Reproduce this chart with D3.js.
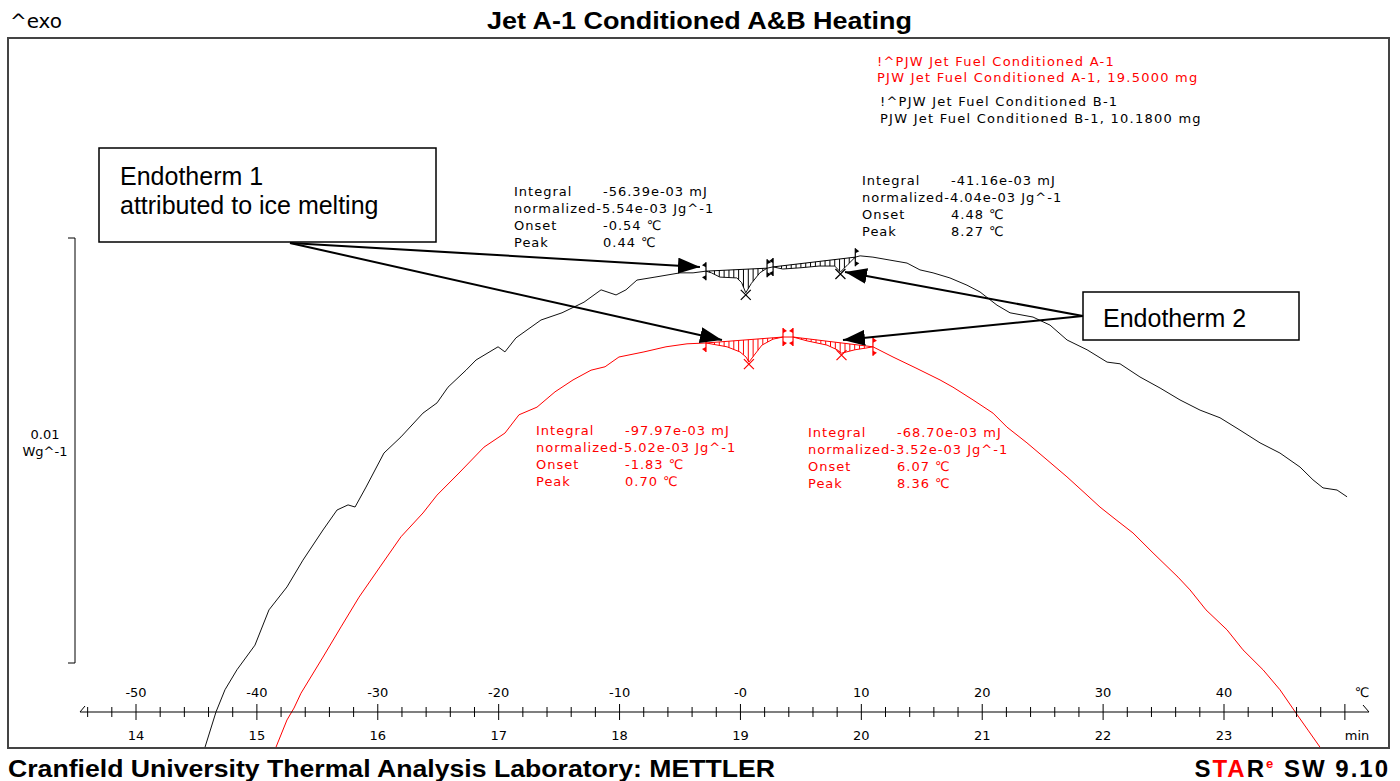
<!DOCTYPE html>
<html><head><meta charset="utf-8">
<script src="https://cdn.jsdelivr.net/npm/d3@7"></script>
<style>body{margin:0;background:#fff} svg{display:block}</style>
</head><body>
<svg id="c" width="1400" height="781"></svg>
<script>
// ---------- DATA ----------
const timeTicks = [14,15,16,17,18,19,20,21,22,23];
const tempLabels = ["-50","-40","-30","-20","-10","-0","10","20","30","40"];
// Sample B-1 (black): [time min, heat flow mW/g, exo up, arbitrary offset]
const seriesB = [
[14.571,0.02],[14.662,0.85],[14.736,1.37],[14.835,1.84],[14.984,2.42],[15.100,3.25],[15.249,3.79],[15.381,4.42],[15.547,5.13],[15.663,5.60],[15.754,5.72],[15.812,5.67],[15.903,6.14],[16.051,6.94],[16.192,7.32],[16.374,7.88],[16.490,8.12],[16.581,8.49],[16.730,8.89],[16.813,9.13],[16.995,9.44],[17.052,9.32],[17.143,9.65],[17.350,10.07],[17.524,10.24],[17.706,10.49],[17.847,10.78],[17.971,10.66],[18.053,10.78],[18.144,11.01],[18.293,11.08],[18.500,11.18],[18.608,11.18],[18.715,11.22],
[18.76,11.18],[18.83,11.08],[18.97,11.06],[19.01,10.95],[19.044,10.71],[19.09,10.93],[19.16,11.18],[19.22,11.29],[19.27,11.32],[19.35,11.27],[19.50,11.30],[19.65,11.34],[19.78,11.34],[19.827,11.20],[19.89,11.38],[19.95,11.55],[19.99,11.58],[20.096,11.55],
[20.237,11.48],[20.378,11.41],[20.485,11.25],[20.593,11.18],[20.733,11.06],[20.874,10.89],[20.982,10.73],[21.122,10.42],[21.230,10.24],[21.420,10.14],[21.561,9.95],[21.702,9.60],[21.867,9.37],[22.033,9.08],[22.140,9.04],[22.305,8.73],[22.471,8.47],[22.636,8.19],[22.802,7.95],[22.967,7.77],[23.132,7.48],[23.298,7.18],[23.463,6.94],[23.629,6.61],[23.736,6.31],[23.819,6.12],[23.935,6.07],[24.018,5.91]
];
// Sample A-1 (red)
const seriesA = [
[15.158,0.02],[15.249,0.66],[15.307,0.94],[15.365,1.29],[15.547,2.14],[15.696,2.85],[15.845,3.55],[16.018,4.26],[16.192,4.97],[16.374,5.53],[16.490,5.95],[16.672,6.47],[16.879,7.08],[17.052,7.41],[17.168,7.84],[17.317,8.02],[17.466,8.38],[17.615,8.66],[17.764,8.89],[17.880,8.97],[17.995,9.20],[18.202,9.32],[18.384,9.44],[18.558,9.51],[18.715,9.53],
[18.889,9.44],[18.996,9.32],[19.046,9.20],[19.07,9.08],[19.121,9.27],[19.178,9.48],[19.269,9.62],[19.352,9.67],[19.435,9.67],[19.550,9.58],[19.716,9.48],[19.80,9.37],[19.836,9.29],[19.947,9.37],[20.038,9.41],[20.096,9.44],
[20.262,9.20],[20.452,8.94],[20.651,8.66],[20.758,8.49],[20.924,8.19],[21.089,7.88],[21.205,7.55],[21.370,7.18],[21.536,6.78],[21.701,6.38],[21.867,5.95],[21.974,5.67],[22.107,5.37],[22.247,5.06],[22.413,4.59],[22.620,4.02],[22.719,3.72],[22.851,3.25],[23.025,2.78],[23.157,2.31],[23.323,1.84],[23.463,1.37],[23.596,0.82],[23.695,0.42],[23.794,0.02]
];
const legendA = ["!^PJW Jet Fuel Conditioned A-1","PJW Jet Fuel Conditioned A-1, 19.5000 mg"];
const legendB = ["!^PJW Jet Fuel Conditioned B-1","PJW Jet Fuel Conditioned B-1, 10.1800 mg"];
// Integration ranges [start,end] and peak time (min)
const rangesB = [[18.715,19.22,19.044],[19.27,19.95,19.827]];
const rangesA = [[18.715,19.352,19.07],[19.435,20.096,19.836]];
const resultsB1 = [["Integral","-56.39e-03 mJ"],["normalized-5.54e-03 Jg^-1",""],["Onset","-0.54 ℃"],["Peak","0.44 ℃"]];
const resultsB2 = [["Integral","-41.16e-03 mJ"],["normalized-4.04e-03 Jg^-1",""],["Onset","4.48 ℃"],["Peak","8.27 ℃"]];
const resultsA1 = [["Integral","-97.97e-03 mJ"],["normalized-5.02e-03 Jg^-1",""],["Onset","-1.83 ℃"],["Peak","0.70 ℃"]];
const resultsA2 = [["Integral","-68.70e-03 mJ"],["normalized-3.52e-03 Jg^-1",""],["Onset","6.07 ℃"],["Peak","8.36 ℃"]];
// arrow targets [time, value]
const arrowTargets1 = [[18.665,11.32],[18.847,9.60]];
const arrowTargets2 = [[19.865,11.20],[19.848,9.60]];
const scaleBar = [2,12]; // 0.01 W/g

// ---------- LAYOUT ----------
const svg = d3.select('#c');
const RED = '#ff0000';
const frame = {x0:8, y0:38, x1:1389, y1:748};
const x = d3.scaleLinear().domain([14,23]).range([136,1224]);
const y = d3.scaleLinear().domain([0,10]).range([748,323]);
const axisY = 712;
const mono = "'DejaVu Sans', Verdana, sans-serif";

svg.append('rect').attr('width',1400).attr('height',781).attr('fill','#fff');
svg.append('defs').append('clipPath').attr('id','clip').append('rect')
  .attr('x',frame.x0).attr('y',frame.y0).attr('width',frame.x1-frame.x0).attr('height',frame.y1-frame.y0);
const defs = svg.select('defs');
defs.append('marker').attr('id','arr').attr('markerUnits','userSpaceOnUse')
  .attr('markerWidth',24).attr('markerHeight',16).attr('refX',22).attr('refY',8).attr('orient','auto')
  .append('path').attr('d','M0,0 L22,8 L0,16 Z').attr('fill','#000');

// frame
svg.append('rect').attr('x',frame.x0).attr('y',frame.y0).attr('width',frame.x1-frame.x0).attr('height',frame.y1-frame.y0)
  .attr('fill','none').attr('stroke','#444').attr('stroke-width',2);

// title etc
svg.append('text').attr('x',487).attr('y',29).attr('textLength',425).attr('lengthAdjust','spacingAndGlyphs')
  .style('font-family',"'Liberation Sans', Arial, sans-serif").style('font-weight','bold').style('font-size','23px')
  .text('Jet A-1 Conditioned A&B Heating');
svg.append('text').attr('x',10).attr('y',28).attr('textLength',52).attr('lengthAdjust','spacingAndGlyphs')
  .style('font-family',mono).style('font-size','20px').text('^exo');
svg.append('text').attr('x',8).attr('y',777).attr('textLength',767).attr('lengthAdjust','spacingAndGlyphs')
  .style('font-family',"'Liberation Sans', Arial, sans-serif").style('font-weight','bold').style('font-size','24px')
  .text('Cranfield University Thermal Analysis Laboratory: METTLER');
const star = svg.append('text').attr('x',1390).attr('y',777).attr('text-anchor','end')
  .style('font-family',"'Liberation Sans', Arial, sans-serif").style('font-weight','bold').style('font-size','24px').style('letter-spacing','2px');
star.append('tspan').text('S');
star.append('tspan').attr('fill',RED).text('TA');
star.append('tspan').text('R');
star.append('tspan').attr('fill',RED).attr('dy',-9).style('font-size','13px').text('e');
star.append('tspan').attr('dy',9).text(' SW 9.10');

// scale bar
const sb = svg.append('g').attr('stroke','#000').attr('fill','none');
sb.append('path').attr('d',`M68,${y(scaleBar[1])}H75V${y(scaleBar[0])}H68`);
svg.append('text').attr('x',45).attr('y',439).attr('text-anchor','middle').style('font-family',mono).style('font-size','13px').text('0.01');
svg.append('text').attr('x',45).attr('y',456).attr('text-anchor','middle').style('font-family',mono).style('font-size','13px').text('Wg^-1');

// curves
const line = d3.line().x(d=>x(d[0])).y(d=>y(d[1]));
const cg = svg.append('g').attr('clip-path','url(#clip)');
cg.append('path').datum(seriesB).attr('d',line).attr('fill','none').attr('stroke','#111').attr('stroke-width',1);
cg.append('path').datum(seriesA).attr('d',line).attr('fill','none').attr('stroke',RED).attr('stroke-width',1);

function interp(s,t){
  const i = d3.bisector(d=>d[0]).left(s,t);
  if(i<=0) return s[0][1];
  if(i>=s.length) return s[s.length-1][1];
  const a=s[i-1], b=s[i];
  return a[1]+(b[1]-a[1])*(t-a[0])/(b[0]-a[0]);
}
function drawIntegrals(s, ranges, col){
  const g = svg.append('g');
  ranges.forEach(([t0,t1,tp])=>{
    const v0=interp(s,t0), v1=interp(s,t1);
    g.append('line').attr('x1',x(t0)).attr('y1',y(v0)).attr('x2',x(t1)).attr('y2',y(v1)).attr('stroke',col).attr('stroke-width',1);
    d3.range(t0+0.03,t1,0.04).forEach(t=>{
      const bl=v0+(v1-v0)*(t-t0)/(t1-t0), cv=interp(s,t);
      g.append('line').attr('x1',x(t)).attr('x2',x(t)).attr('y1',y(bl)).attr('y2',y(cv)).attr('stroke',col).attr('stroke-width',1);
    });
    [[t0,v0,1],[t1,v1,-1]].forEach(([t,v,dir])=>{
      const px=x(t), py=y(v);
      g.append('line').attr('x1',px).attr('x2',px).attr('y1',py-9).attr('y2',py+9).attr('stroke',col).attr('stroke-width',1.2);
      g.append('path').attr('d',`M${px},${py-9}L${px-dir*4},${py-6}L${px},${py-4}Z`).attr('fill',col);
      g.append('path').attr('d',`M${px},${py+9}L${px-dir*4},${py+6}L${px},${py+4}Z`).attr('fill',col);
    });
    const px=x(tp), py=y(interp(s,tp))+2;
    g.append('path').attr('d',`M${px-5},${py-5}L${px+5},${py+5}M${px-5},${py+5}L${px+5},${py-5}`).attr('stroke',col).attr('stroke-width',1.2);
  });
}
drawIntegrals(seriesB, rangesB, '#000');
drawIntegrals(seriesA, rangesA, RED);

// result texts
function results(rows, x0, y0, col){
  const g = svg.append('g').style('font-family',mono).style('font-size','13px').style('letter-spacing','1px').attr('fill',col);
  rows.forEach((r,i)=>{
    g.append('text').attr('x',x0).attr('y',y0+i*17).text(r[0]);
    if(r[1]) g.append('text').attr('x',x0+89).attr('y',y0+i*17).text(r[1]);
  });
}
results(resultsB1, 514, 196, '#000');
results(resultsB2, 862, 185, '#000');
results(resultsA1, 536, 435, RED);
results(resultsA2, 808, 437, RED);

// legend
const lg = svg.append('g').style('font-family',mono).style('font-size','13px').style('letter-spacing','1.25px');
legendA.forEach((t,i)=>lg.append('text').attr('x',877).attr('y',66+i*16).attr('fill',RED).text(t));
legendB.forEach((t,i)=>lg.append('text').attr('x',880).attr('y',106+i*17).attr('fill','#000').text(t));

// x axis
const ax = svg.append('g').attr('stroke','#000');
ax.append('line').attr('x1',80).attr('x2',1369).attr('y1',axisY).attr('y2',axisY).attr('stroke-width',1.2);
ax.append('path').attr('d',`M80,${axisY}L85,${axisY-6}`).attr('fill','none');
ax.append('path').attr('d',`M1363,${axisY-7}L1369,${axisY}`).attr('fill','none');
d3.range(13.6,24.01,0.2).forEach(t=>{
  const major = Math.abs(t-Math.round(t))<1e-6;
  const h = major?8:5;
  ax.append('line').attr('x1',x(t)).attr('x2',x(t)).attr('y1',axisY-h).attr('y2',axisY+h).attr('stroke-width',1);
});
const tl = svg.append('g').style('font-family',mono).style('font-size','13px').attr('text-anchor','middle');
timeTicks.forEach((t,i)=>{
  tl.append('text').attr('x',x(t)).attr('y',740).text(String(t));
  tl.append('text').attr('x',x(t)).attr('y',697).text(tempLabels[i]);
});
tl.append('text').attr('x',1362).attr('y',697).text('℃');
tl.append('text').attr('x',1357).attr('y',740).text('min');

// annotation boxes
const ff = "'Liberation Sans', Arial, sans-serif";
svg.append('rect').attr('x',99).attr('y',148).attr('width',337).attr('height',94).attr('fill','#fff').attr('stroke','#000').attr('stroke-width',1.5);
svg.append('text').attr('x',120).attr('y',185).style('font-family',ff).style('font-size','25px').text('Endotherm 1');
svg.append('text').attr('x',120).attr('y',214).style('font-family',ff).style('font-size','25px').text('attributed to ice melting');
svg.append('rect').attr('x',1083).attr('y',292).attr('width',216).attr('height',48).attr('fill','#fff').attr('stroke','#000').attr('stroke-width',1.5);
svg.append('text').attr('x',1103).attr('y',327).style('font-family',ff).style('font-size','25px').text('Endotherm 2');

const ag = svg.append('g').attr('stroke','#000').attr('stroke-width',2);
arrowTargets1.forEach(d=>ag.append('line').attr('x1',290).attr('y1',243).attr('x2',x(d[0])).attr('y2',y(d[1])).attr('marker-end','url(#arr)'));
arrowTargets2.forEach(d=>ag.append('line').attr('x1',1083).attr('y1',316).attr('x2',x(d[0])).attr('y2',y(d[1])).attr('marker-end','url(#arr)'));
</script>
</body></html>
